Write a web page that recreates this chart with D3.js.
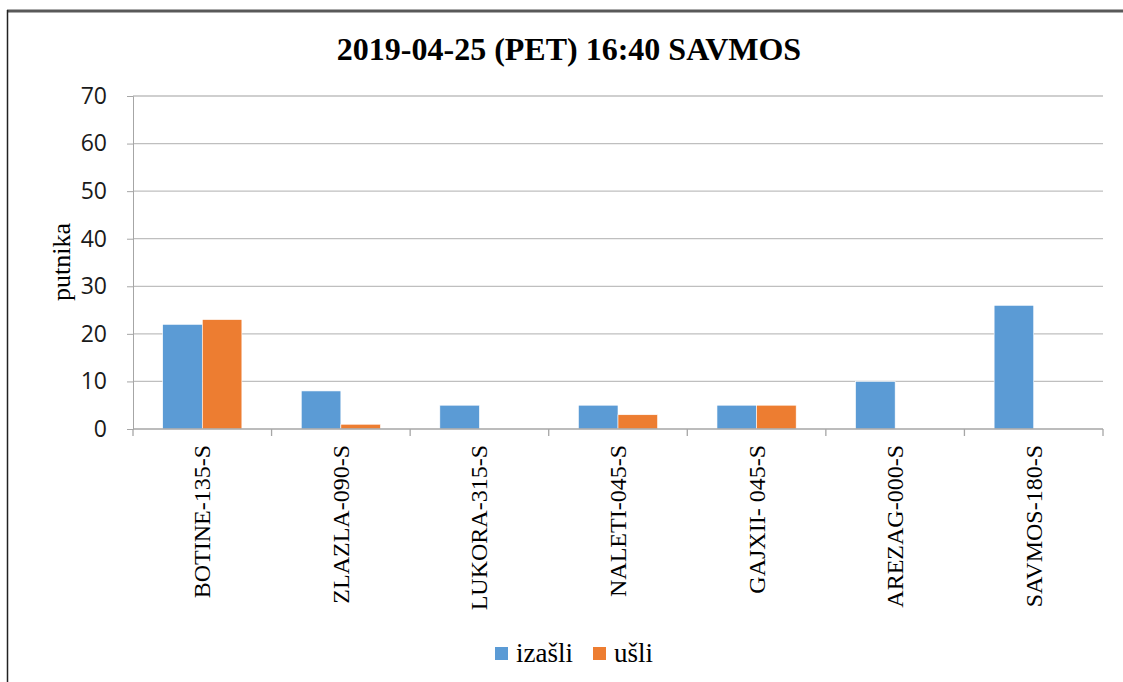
<!DOCTYPE html>
<html>
<head>
<meta charset="utf-8">
<script src="https://cdn.jsdelivr.net/npm/d3@7"></script>
<style>
  body { margin: 0; background: white; }
</style>
</head>
<body>
<div id="chart"></div>
<script>
const stations = ["BOTINE-135-S", "ZLAZLA-090-S", "LUKORA-315-S", "NALETI-045-S", "GAJXII- 045-S", "AREZAG-000-S", "SAVMOS-180-S"]
const izasli = [22, 8, 5, 5, 5, 10, 26]
const usli = [23, 1, 0, 3, 5, 0, 0]
const seriesNames = ["izašli", "ušli"]
const seriesColors = ["#5b9bd5", "#ed7d31"]
const yTicks = [0, 10, 20, 30, 40, 50, 60, 70]

const width = 1123, height = 682
const svg = d3.select("#chart").append("svg")
    .attr("width", width)
    .attr("height", height)

// frame
svg.append("line").attr("x1", 7).attr("x2", width).attr("y1", 11).attr("y2", 11)
    .attr("stroke", "#595959").attr("stroke-width", 3)
svg.append("line").attr("x1", 7.5).attr("x2", 7.5).attr("y1", 10).attr("y2", height)
    .attr("stroke", "#222").attr("stroke-width", 1.5)

const plotLeft = 133, plotRight = 1103, plotTop = 96, plotBottom = 429

const x0 = d3.scaleBand().domain(stations).range([plotLeft, plotRight])
    .paddingInner(0.75 / 1.75).paddingOuter(0.375 / 1.75)
const x1 = d3.scaleBand().domain(seriesNames).range([0, x0.bandwidth()])
const y = d3.scaleLinear().domain([0, 70]).range([plotBottom, plotTop])

// title
svg.append("text")
    .attr("x", 569).attr("y", 60)
    .attr("text-anchor", "middle")
    .style("font-family", "'Liberation Serif', 'Times New Roman', serif")
    .style("font-weight", "bold")
    .style("font-size", "32px")
    .text("2019-04-25 (PET) 16:40 SAVMOS")

// grid
svg.selectAll(".grid")
    .data(yTicks.filter(d => d > 0))
    .join("line")
    .attr("class", "grid")
    .attr("x1", plotLeft).attr("x2", plotRight)
    .attr("y1", d => y(d)).attr("y2", d => y(d))
    .attr("stroke", "#bfbfbf").attr("stroke-width", 1.3)

// y axis
const yAxis = svg.append("g")
    .attr("transform", `translate(${plotLeft},0)`)
    .call(d3.axisLeft(y).tickValues(yTicks).tickSize(6).tickPadding(20))
yAxis.select(".domain").attr("stroke", "#a6a6a6")
yAxis.selectAll(".tick line").attr("stroke", "#a6a6a6")
yAxis.selectAll(".tick text")
    .style("font-family", "'Open Sans', 'Liberation Sans', sans-serif")
    .style("font-size", "23px")
    .attr("fill", "#1a1a1a")

svg.append("text")
    .attr("transform", `translate(70,262) rotate(-90)`)
    .attr("text-anchor", "middle")
    .style("font-family", "'Liberation Serif', 'Times New Roman', serif")
    .style("font-size", "26px")
    .text("putnika")

// bars
const groups = svg.selectAll(".group")
    .data(stations)
    .join("g")
    .attr("class", "group")
    .attr("transform", d => `translate(${x0(d)},0)`)

groups.selectAll("rect")
    .data((d, i) => [{ key: seriesNames[0], v: izasli[i] }, { key: seriesNames[1], v: usli[i] }])
    .join("rect")
    .attr("x", d => x1(d.key))
    .attr("width", x1.bandwidth())
    .attr("y", d => y(d.v))
    .attr("height", d => y(0) - y(d.v))
    .attr("fill", (d, i) => seriesColors[i])
    .attr("stroke", "white").attr("stroke-width", 0.6)

// x axis line and ticks at category boundaries
svg.append("line").attr("x1", plotLeft).attr("x2", plotRight).attr("y1", plotBottom).attr("y2", plotBottom)
    .attr("stroke", "#a6a6a6").attr("stroke-width", 1.3)
const bounds = stations.map(d => x0(d) - (x0.step() - x0.bandwidth()) / 2)
bounds.push(plotRight)
svg.selectAll(".xtick")
    .data(bounds)
    .join("line")
    .attr("class", "xtick")
    .attr("x1", d => d).attr("x2", d => d)
    .attr("y1", plotBottom).attr("y2", plotBottom + 7)
    .attr("stroke", "#a6a6a6").attr("stroke-width", 1.3)

svg.selectAll(".xlabel")
    .data(stations)
    .join("text")
    .attr("class", "xlabel")
    .attr("transform", d => `translate(${x0(d) + x0.bandwidth() / 2 + 8},445) rotate(-90)`)
    .attr("text-anchor", "end")
    .style("font-family", "'Liberation Serif', 'Times New Roman', serif")
    .style("font-size", "24px")
    .text(d => d)

// legend
const legendX = [495, 593]
seriesNames.forEach((name, i) => {
    svg.append("rect")
        .attr("x", legendX[i]).attr("y", 647)
        .attr("width", 13).attr("height", 13)
        .attr("fill", seriesColors[i])
    svg.append("text")
        .attr("x", legendX[i] + 21).attr("y", 662)
        .style("font-family", "'Liberation Serif', 'Times New Roman', serif")
        .style("font-size", "27px")
        .text(name)
})
</script>
</body>
</html>
